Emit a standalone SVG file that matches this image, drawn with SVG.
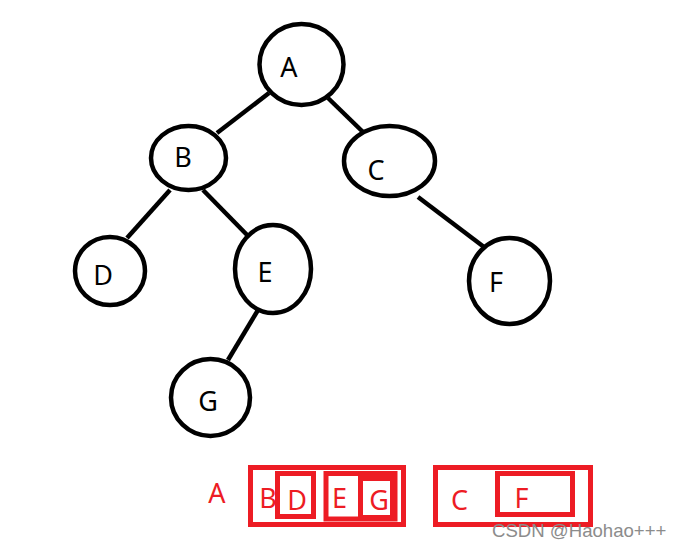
<svg xmlns="http://www.w3.org/2000/svg" width="682" height="548" viewBox="0 0 682 548">
<style>
.node ellipse{fill:#fff;stroke:#000;stroke-width:4.5}
.lbl{font-family:"Noto Sans","Open Sans",sans-serif;font-size:27px;fill:#000;text-anchor:middle}
.red{fill:#ED1C24}
.box{fill:none;stroke:#ED1C24;stroke-width:5}
.wm{font-family:"Liberation Sans",Arial,sans-serif;font-size:18.6px;fill:#8c8c8c}
#edges line{stroke:#000;stroke-width:4.5}
</style>
<rect width="682" height="548" fill="#fff"/>
<g id="edges">
<line x1="269" y1="93" x2="217" y2="133"/>
<line x1="328" y1="98" x2="364" y2="133"/>
<line x1="170" y1="190" x2="127" y2="238"/>
<line x1="203" y1="190" x2="252" y2="240"/>
<line x1="418" y1="197" x2="484" y2="247"/>
<line x1="258" y1="310" x2="228" y2="360"/>
</g>
<g id="A" class="node"><ellipse cx="301.5" cy="64.5" rx="42" ry="40.5"/><text class="lbl" x="289" y="77">A</text></g>
<g id="B" class="node"><ellipse cx="188.5" cy="158" rx="37.5" ry="32"/><text class="lbl" x="183" y="167">B</text></g>
<g id="C" class="node"><ellipse cx="389.5" cy="161" rx="45.5" ry="35"/><text class="lbl" x="376" y="180">C</text></g>
<g id="D" class="node"><ellipse cx="110" cy="271" rx="35" ry="34"/><text class="lbl" x="103" y="285">D</text></g>
<g id="E" class="node"><ellipse cx="273" cy="269" rx="38" ry="44"/><text class="lbl" x="265" y="282">E</text></g>
<g id="F" class="node"><ellipse cx="509.5" cy="281" rx="40.5" ry="43"/><text class="lbl" x="496" y="292">F</text></g>
<g id="G" class="node"><ellipse cx="210.5" cy="397.5" rx="39.5" ry="38.5"/><text class="lbl" x="208" y="411">G</text></g>
<g id="storage">
<text class="lbl red" x="217" y="503">A</text>
<rect class="box" x="250.5" y="467.5" width="153" height="57"/>
<text class="lbl red" x="268" y="508">B</text>
<rect class="box" x="277.5" y="473.5" width="36" height="43"/>
<text class="lbl red" x="297" y="510">D</text>
<rect class="box" x="326" y="473.5" width="69" height="45.5"/>
<rect class="box" x="360.5" y="478.5" width="32" height="39"/>
<text class="lbl red" x="339.5" y="508">E</text>
<text class="lbl red" x="379" y="510">G</text>
<rect class="box" x="435.5" y="467.5" width="155" height="57"/>
<text class="lbl red" x="459.5" y="510">C</text>
<rect class="box" x="497.5" y="473.5" width="75" height="41"/>
<text class="lbl red" x="521.5" y="508">F</text>
</g>
<text class="wm" x="492" y="537">CSDN @Haohao+++</text>
</svg>
